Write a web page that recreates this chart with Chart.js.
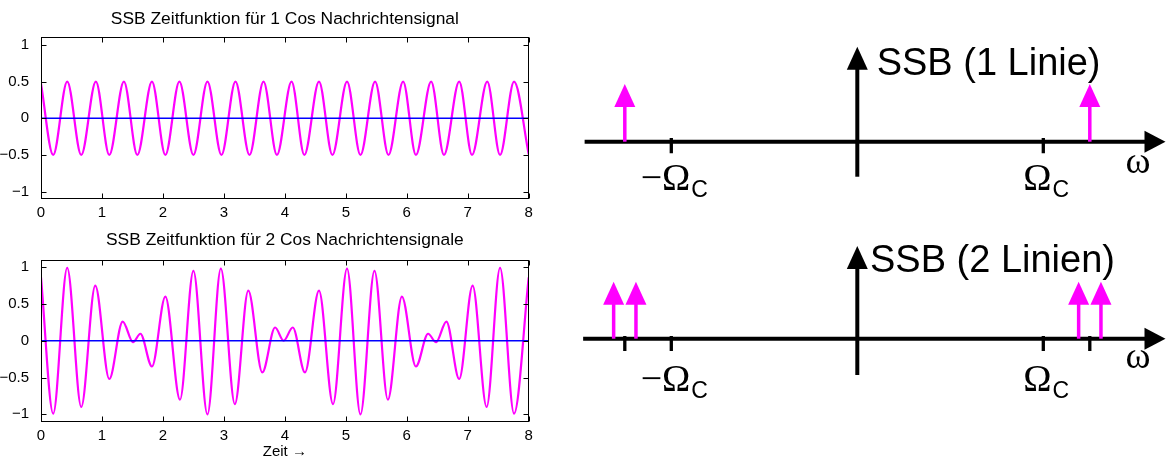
<!DOCTYPE html>
<html>
<head>
<meta charset="utf-8">
<script src="https://cdn.jsdelivr.net/npm/chart.js@4.4.0/dist/chart.umd.min.js"></script>
<style>
  html, body { margin: 0; padding: 0; background: #fff; }
  body { width: 1166px; height: 459px; position: relative; overflow: hidden; }
  canvas { position: absolute; }
</style>
</head>
<body>
<canvas id="time1" width="560" height="225" style="left:0;top:0"></canvas>
<canvas id="time2" width="560" height="234" style="left:0;top:225px"></canvas>
<canvas id="spec1" width="606" height="225" style="left:560px;top:0"></canvas>
<canvas id="spec2" width="606" height="234" style="left:560px;top:225px"></canvas>
<script>
// tick labels of the time plots
const timeTicks = [0, 1, 2, 3, 4, 5, 6, 7, 8];
const ampTicks = [-1, -0.5, 0, 0.5, 1];

// SSB with 1 cos message: turning points (time, value)
const t1 = [0, 0.20, 0.43, 0.66, 0.90, 1.12, 1.36, 1.58, 1.82, 2.04, 2.27, 2.50, 2.73, 2.96, 3.19, 3.42, 3.65, 3.87,
            4.11, 4.32, 4.56, 4.78, 5.02, 5.24, 5.48, 5.70, 5.94, 6.15, 6.40, 6.61, 6.86, 7.07, 7.32, 7.53, 7.76, 8.0];
const y1 = [0.47, -0.5, 0.5, -0.5, 0.5, -0.5, 0.5, -0.5, 0.5, -0.5, 0.5, -0.5, 0.5, -0.5, 0.5, -0.5, 0.5, -0.5,
            0.5, -0.5, 0.5, -0.5, 0.5, -0.5, 0.5, -0.5, 0.5, -0.5, 0.5, -0.5, 0.5, -0.5, 0.5, -0.5, 0.5, -0.49];

// SSB with 2 cos messages (beat pattern)
const t2 = [0, 0.20, 0.43, 0.66, 0.89, 1.12, 1.34, 1.51, 1.63, 1.82, 2.04, 2.28, 2.50, 2.73, 2.95, 3.18, 3.40, 3.63, 3.84, 3.98,
            4.13, 4.33, 4.56, 4.79, 5.02, 5.24, 5.47, 5.69, 5.92, 6.15, 6.35, 6.48, 6.65, 6.86, 7.08, 7.31, 7.53, 7.76, 8.0];
const y2 = [0.86, -0.99, 0.99, -0.90, 0.75, -0.52, 0.26, -0.02, 0.095, -0.35, 0.60, -0.80, 0.95, -1.0, 0.98, -0.86, 0.68, -0.43, 0.18, 0.0,
            0.18, -0.43, 0.68, -0.86, 0.98, -1.0, 0.95, -0.80, 0.60, -0.35, 0.095, -0.02, 0.26, -0.52, 0.75, -0.90, 0.99, -0.99, 0.86];

// spectra: line positions in units of Omega_C, heights, axis marks
const lines1 = [-1.25, 1.25];
const heights1 = [1, 1];
const marks1 = [-1, 1];
const lines2 = [-1.31, -1.19, 1.19, 1.31];
const heights2 = [1, 1, 1, 1];
const marks2 = [-1.25, -1, 1, 1.25];
const omegaLabelAt = [-1, 1];
const omegaLabels = ['\u2212\u03A9', '\u03A9'];

const SANS = '"Liberation Sans", Arial, Helvetica, sans-serif';
const SERIF = '"Liberation Serif", "Times New Roman", serif';
Chart.defaults.font.family = SANS;
Chart.defaults.color = '#000';

const fmt = v => (v < 0 ? '\u2212' : '') + Math.abs(v);

// matlab style box with inward ticks on all four sides
const frame = {
  id: 'frame',
  afterDatasetsDraw(chart) {
    const {ctx, chartArea: a, scales: {x, y}} = chart;
    const L = Math.round(a.left) + 0.5, R = Math.round(a.right) - 0.5;
    const T = Math.round(a.top) + 0.5, B = Math.round(a.bottom) - 0.5;
    ctx.save();
    ctx.strokeStyle = '#000';
    ctx.lineWidth = 1;
    ctx.strokeRect(L, T, R - L, B - T);
    ctx.beginPath();
    x.ticks.forEach(t => {
      const px = Math.round(x.getPixelForValue(t.value)) + 0.5;
      ctx.moveTo(px, B); ctx.lineTo(px, B - 5);
      ctx.moveTo(px, T); ctx.lineTo(px, T + 5);
    });
    y.ticks.forEach(t => {
      const py = Math.round(y.getPixelForValue(t.value)) + 0.5;
      ctx.moveTo(L, py); ctx.lineTo(L + 5, py);
      ctx.moveTo(R, py); ctx.lineTo(R - 5, py);
    });
    ctx.stroke();
    ctx.restore();
  }
};

function timeChart(id, t, y, title, xTitle, g) {
  return new Chart(document.getElementById(id), {
    type: 'line',
    data: {
      datasets: [
        { data: [{x: 0, y: 0}, {x: 8, y: 0}], borderColor: '#0000ff', borderWidth: 1.3, pointRadius: 0 },
        { data: t.map((v, i) => ({x: v, y: y[i]})), borderColor: '#ff00ff', borderWidth: 2.2,
          pointRadius: 0, cubicInterpolationMode: 'monotone' }
      ]
    },
    options: {
      responsive: false,
      animation: false,
      devicePixelRatio: 1,
      layout: { autoPadding: false, padding: { left: 0, right: 31.3, top: 0, bottom: 0 } },
      plugins: {
        legend: { display: false },
        tooltip: { enabled: false },
        title: {
          display: true, fullSize: false, text: title, color: '#000',
          font: { family: SANS, size: 17.4, weight: 'normal', lineHeight: 1.2 },
          padding: { top: g.titleTop, bottom: g.titleBottom }
        }
      },
      scales: {
        x: {
          type: 'linear', min: 0, max: 8,
          grid: { display: false }, border: { display: false },
          afterBuildTicks: s => { s.ticks = timeTicks.map(v => ({value: v})); },
          afterFit: s => { s.height = g.xHeight; },
          ticks: { color: '#000', font: { size: 15 }, padding: -3, autoSkip: false, maxRotation: 0 },
          title: xTitle ? { display: true, text: xTitle, color: '#000',
                            font: { size: 15, lineHeight: 1 }, padding: { top: 0, bottom: 0 } }
                        : { display: false }
        },
        y: {
          min: -1.1, max: 1.1,
          grid: { display: false }, border: { display: false },
          afterBuildTicks: s => { s.ticks = ampTicks.map(v => ({value: v})); },
          afterFit: s => { s.width = 41; },
          ticks: { color: '#000', font: { size: 15 }, padding: 4, callback: v => fmt(v) }
        }
      }
    },
    plugins: [frame]
  });
}

timeChart('time1', t1, y1, 'SSB Zeitfunktion f\u00FCr 1 Cos Nachrichtensignal', null,
          { titleTop: 9, titleBottom: 7.6, xHeight: 26 });
timeChart('time2', t2, y2, 'SSB Zeitfunktion f\u00FCr 2 Cos Nachrichtensignale', 'Zeit \u2192',
          { titleTop: 5, titleBottom: 8.9, xHeight: 37.3 });

// arrows (shaft + head) for datasets flagged with "arrow"
const arrows = {
  id: 'arrows',
  afterDatasetsDraw(chart) {
    const ctx = chart.ctx;
    chart.data.datasets.forEach((ds, i) => {
      if (!ds.arrow) return;
      const pts = chart.getDatasetMeta(i).data;
      const a = pts[0], b = pts[pts.length - 1];
      const dx = b.x - a.x, dy = b.y - a.y, len = Math.hypot(dx, dy);
      const ux = dx / len, uy = dy / len;
      const bx = b.x - ux * ds.arrow.len, by = b.y - uy * ds.arrow.len;
      const hw = ds.arrow.head / 2;
      ctx.save();
      ctx.strokeStyle = ds.arrow.color;
      ctx.fillStyle = ds.arrow.color;
      ctx.lineWidth = ds.arrow.width;
      ctx.beginPath();
      ctx.moveTo(a.x, a.y);
      ctx.lineTo(bx + ux, by + uy);
      ctx.stroke();
      ctx.beginPath();
      ctx.moveTo(b.x, b.y);
      ctx.lineTo(bx - uy * hw, by + ux * hw);
      ctx.lineTo(bx + uy * hw, by - ux * hw);
      ctx.closePath();
      ctx.fill();
      ctx.restore();
    });
  }
};

const specText = {
  id: 'specText',
  afterDraw(chart, args, o) {
    const {ctx, scales: {x, y}} = chart;
    const y0 = y.getPixelForValue(0);
    ctx.save();
    ctx.fillStyle = '#000';
    ctx.textBaseline = 'alphabetic';
    ctx.textAlign = 'left';
    ctx.font = '38px ' + SANS;
    ctx.fillText(o.title, x.getPixelForValue(o.titleX), y0 - o.titleRise);
    omegaLabelAt.forEach((w, i) => {
      ctx.font = '38px ' + SERIF;
      const w1 = ctx.measureText(omegaLabels[i]).width;
      ctx.font = '23px ' + SANS;
      const w2 = ctx.measureText('C').width;
      const x0 = x.getPixelForValue(w) + 3 - (w1 + w2 + 1) / 2;
      ctx.font = '38px ' + SERIF;
      ctx.fillText(omegaLabels[i], x0, y0 + o.labelDrop);
      ctx.font = '23px ' + SANS;
      ctx.fillText('C', x0 + w1 + 1, y0 + o.labelDrop + 7);
    });
    ctx.font = '38px ' + SERIF;
    ctx.textAlign = 'center';
    ctx.fillText('\u03C9', x.getPixelForValue(o.omegaX), y0 + o.omegaDrop);
    ctx.restore();
  }
};

function spectrumChart(id, lines, heights, marks, title, g) {
  const W = 606;
  const datasets = [];
  datasets.push({ data: [{x: g.hFrom, y: 0}, {x: g.hTo, y: 0}], showLine: false,
                  arrow: { color: '#000', width: 4, len: 21, head: 22 } });
  datasets.push({ data: [{x: 0, y: g.vFrom}, {x: 0, y: g.vTo}], showLine: false,
                  arrow: { color: '#000', width: 4, len: 23, head: 21 } });
  marks.forEach(m => datasets.push({
    data: [{x: m, y: g.markUp / g.unitY}, {x: m, y: -g.markDown / g.unitY}],
    showLine: true, borderColor: '#000', borderWidth: 3.3, pointRadius: 0
  }));
  lines.forEach((w, i) => datasets.push({
    data: [{x: w, y: 0}, {x: w, y: heights[i]}], showLine: false,
    arrow: { color: '#ff00ff', width: 3.5, len: 23, head: 21 }
  }));
  return new Chart(document.getElementById(id), {
    type: 'scatter',
    data: { datasets },
    options: {
      responsive: false,
      animation: false,
      devicePixelRatio: 1,
      layout: { autoPadding: false, padding: 0 },
      elements: { point: { radius: 0 } },
      plugins: {
        legend: { display: false },
        tooltip: { enabled: false },
        specText: { title, titleX: g.titleX, titleRise: g.titleRise, labelDrop: g.labelDrop,
                    omegaX: 1.509, omegaDrop: g.omegaDrop }
      },
      scales: {
        x: { type: 'linear', display: false, min: -g.zeroX / g.unitX, max: (W - g.zeroX) / g.unitX },
        y: { type: 'linear', display: false, min: -(g.h - g.axisY) / g.unitY, max: g.axisY / g.unitY }
      }
    },
    plugins: [arrows, specText]
  });
}

spectrumChart('spec1', lines1, heights1, marks1, 'SSB (1 Linie)', {
  h: 225, zeroX: 297.3, unitX: 186, axisY: 141.7, unitY: 57.7,
  hFrom: -1.466, hTo: 1.657, vFrom: -0.607, vTo: 1.646,
  markUp: 3.7, markDown: 11.6,
  titleX: 0.104, titleRise: 66.7, labelDrop: 48.3, omegaDrop: 31.5
});
spectrumChart('spec2', lines2, heights2, marks2, 'SSB (2 Linien)', {
  h: 234, zeroX: 297.3, unitX: 186, axisY: 113.7, unitY: 57,
  hFrom: -1.474, hTo: 1.657, vFrom: -0.637, vTo: 1.626,
  markUp: 2.7, markDown: 12.3,
  titleX: 0.068, titleRise: 67, labelDrop: 52, omegaDrop: 29.6
});
</script>
</body>
</html>
